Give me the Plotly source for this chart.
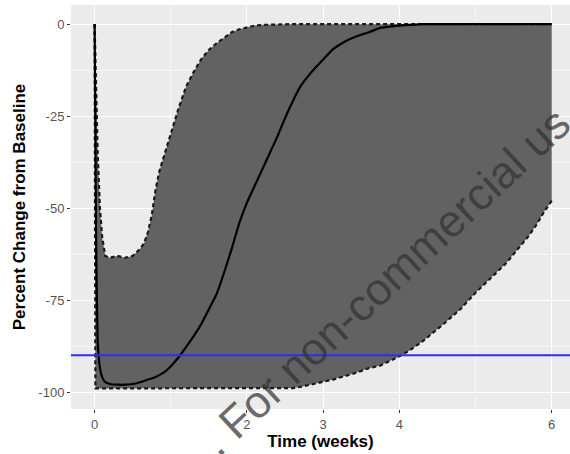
import plotly.graph_objects as go

# ---- data ----
time_weeks = [0, 0.01, 0.02, 0.04, 0.07, 0.1, 0.14, 0.2, 0.3, 0.4,
              0.5, 0.55, 0.6, 0.65, 0.7, 0.75, 0.8, 0.85, 0.9, 0.95,
              1.0, 1.1, 1.2, 1.3, 1.4, 1.5, 1.6, 1.7, 1.8, 1.9,
              2.0, 2.1, 2.2, 2.3, 2.4, 2.5, 2.6, 2.7, 2.8, 2.9,
              3.0, 3.13, 3.2, 3.3, 3.44, 3.6, 3.75, 3.9, 4.0, 4.14,
              4.3, 4.58, 4.8, 5.0, 5.2, 5.4, 5.6, 5.7, 5.8, 5.9,
              6.0]

upper_pct = [0, -8, -15, -35, -50, -58, -63, -63.5, -63, -63.5,
             -63, -62, -61, -59.5, -56.5, -52, -45, -40, -36.5, -33.5,
             -30, -23, -17, -13, -9.5, -7, -5.2, -3.6, -2.2, -1.4,
             -0.8, -0.4, -0.2, -0.1, 0, 0, 0, 0, 0, 0,
             0, 0, 0, 0, 0, 0, 0, 0, 0, 0,
             0, 0, 0, 0, 0, 0, 0, 0, 0, 0,
             0]

lower_pct = [0, -99, -99, -99, -99, -99, -99, -99, -99, -99,
             -99, -99, -99, -99, -99, -99, -99, -99, -99, -99,
             -99, -99, -99, -99, -99, -99, -99, -99, -99, -99,
             -99, -99, -99, -99, -99, -99, -98.9, -98.6, -98.2, -97.7,
             -97.2, -96.6, -96.2, -95.6, -94.7, -93.5, -92.8, -91.3, -90.3, -88.6,
             -86.3, -81.5, -77.5, -73, -69, -65, -60, -57.5, -54.5, -51,
             -48]

median_pct = [0, -30, -60, -86, -93.5, -96, -97.3, -97.8, -98, -98,
              -97.8, -97.6, -97.3, -97, -96.6, -96.3, -95.9, -95.4, -94.8, -94,
              -93, -90.6, -87.8, -84.8, -81.5, -77.5, -73.4, -67.5, -61, -54,
              -48.5, -44, -39.5, -35, -30.5, -25.5, -21, -17, -14.2, -11.8,
              -9.6, -6.8, -5.8, -4.6, -3.3, -2.2, -1.0, -0.6, -0.4, -0.2,
              0, 0, 0, 0, 0, 0, 0, 0, 0, 0,
              0]

threshold_pct = -90

x_tick_vals = [0, 2, 3, 4, 6]
x_tick_text = ["0", "2", "3", "4", "6"]
x_minor_vals = [1, 5]
y_tick_vals = [0, -25, -50, -75, -100]
y_tick_text = ["0", "-25", "-50", "-75", "-100"]
y_minor_vals = [-12.5, -37.5, -62.5, -87.5]

watermark = ". For non-commercial us"

FONT = "Liberation Sans, Arial, sans-serif"

fig = go.Figure()
fig.add_trace(go.Scatter(x=time_weeks, y=upper_pct, mode="lines",
                         line=dict(color="#1a1a1a", width=2.2, dash="4px,3px"),
                         hoverinfo="skip", showlegend=False))
fig.add_trace(go.Scatter(x=time_weeks, y=lower_pct, mode="lines", fill="tonexty",
                         fillcolor="#626262",
                         line=dict(color="#1a1a1a", width=2.2, dash="4px,3px"),
                         hoverinfo="skip", showlegend=False))
fig.add_trace(go.Scatter(x=time_weeks, y=median_pct, mode="lines",
                         line=dict(color="#000000", width=2.2, shape="spline", smoothing=0.4),
                         showlegend=False))
fig.add_hline(y=threshold_pct, line=dict(color="#2f2fe8", width=2), layer="above")

fig.add_annotation(text=watermark, xref="paper", yref="paper", x=0.63, y=0.315,
                   xanchor="center", yanchor="middle",
                   showarrow=False, textangle=-43,
                   font=dict(family=FONT, size=45, color="rgba(50,50,50,0.72)"))

fig.update_layout(
    width=570, height=454,
    margin=dict(l=71, r=0, t=5, b=45),
    paper_bgcolor="white", plot_bgcolor="#EBEBEB",
    font=dict(family=FONT, color="#4D4D4D"),
)
fig.update_xaxes(range=[-0.31, 6.24], tickvals=x_tick_vals, ticktext=x_tick_text,
                 showgrid=True, gridcolor="white", gridwidth=1.2, zeroline=False,
                 ticks="outside", ticklen=3, tickcolor="#333333", tickwidth=1,
                 tickfont=dict(size=13, color="#555555"),
                 minor=dict(tickvals=x_minor_vals, showgrid=True, gridcolor="#F7F7F7", gridwidth=0.6, ticks=""),
                 title=dict(text="<b>Time (weeks)</b>", font=dict(size=17, color="#000000"), standoff=3),
                 showline=False)
fig.update_yaxes(range=[-104.6, 5.2], tickvals=y_tick_vals, ticktext=y_tick_text,
                 showgrid=True, gridcolor="white", gridwidth=1.2, zeroline=False,
                 ticks="outside", ticklen=3, tickcolor="#333333", tickwidth=1,
                 tickfont=dict(size=13, color="#555555"),
                 minor=dict(tickvals=y_minor_vals, showgrid=True, gridcolor="#F7F7F7", gridwidth=0.6, ticks=""),
                 title=dict(text="<b>Percent Change from Baseline</b>", font=dict(size=17, color="#000000"), standoff=8),
                 showline=False)

fig.write_html("out.html")
